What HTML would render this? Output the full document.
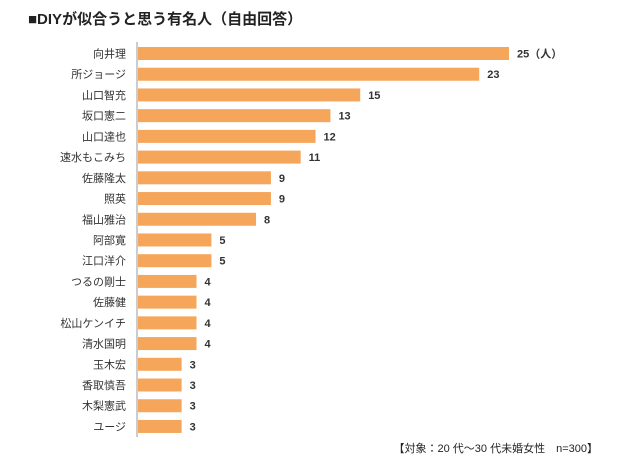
<!DOCTYPE html>
<html><head><meta charset="utf-8"><style>
body{margin:0;background:#fff;width:640px;height:470px;overflow:hidden;font-family:"Liberation Sans","Noto Sans CJK JP",sans-serif;}
</style></head><body>
<svg width="640" height="470" xmlns="http://www.w3.org/2000/svg">
<text x="28" y="24" font-size="15" font-weight="bold" fill="#222" font-family="Liberation Sans, Noto Sans CJK JP, sans-serif">■DIYが似合うと思う有名人（自由回答）</text>
<line x1="137" y1="42" x2="137" y2="437" stroke="#999" stroke-width="1"/>
<g id="bars"></g>
<text x="598" y="452" font-size="11" text-anchor="end" fill="#222" font-family="Liberation Sans, Noto Sans CJK JP, sans-serif">【対象：20 代～30 代未婚女性　n=300】</text>
</svg>
<script>
const categories=["向井理","所ジョージ","山口智充","坂口憲二","山口達也","速水もこみち","佐藤隆太","照英","福山雅治","阿部寛","江口洋介","つるの剛士","佐藤健","松山ケンイチ","清水国明","玉木宏","香取慎吾","木梨憲武","ユージ"];
const values=[25,23,15,13,12,11,9,9,8,5,5,4,4,4,4,3,3,3,3];
const valueLabels=["25（人）","23","15","13","12","11","9","9","8","5","5","4","4","4","4","3","3","3","3"];
const x0=137,unit=14.88,y0=53.5,step=20.72,bh=13;
const xs=v=>x0+v*unit, ys=i=>y0+i*step;
const g=document.getElementById('bars');const NS="http://www.w3.org/2000/svg";
categories.forEach((c,i)=>{
 const r=document.createElementNS(NS,'rect');
 r.setAttribute('x',x0+1);r.setAttribute('y',ys(i)-bh/2);r.setAttribute('width',xs(values[i])-x0-1);r.setAttribute('height',bh);r.setAttribute('fill','#f6a65a');
 
 
 g.appendChild(r);
 const t=document.createElementNS(NS,'text');
 t.setAttribute('x',126);t.setAttribute('y',ys(i)+4);t.setAttribute('text-anchor','end');t.setAttribute('font-size','11');t.setAttribute('fill','#333');
 t.textContent=c;
 
 
 g.appendChild(t);
 const v=document.createElementNS(NS,'text');
 v.setAttribute('x',xs(values[i])+8);v.setAttribute('y',ys(i)+4);v.setAttribute('font-size','11');v.setAttribute('font-weight','bold');v.setAttribute('fill','#333');
 v.textContent=valueLabels[i];
 
 
 g.appendChild(v);
});
</script>
</body></html>
